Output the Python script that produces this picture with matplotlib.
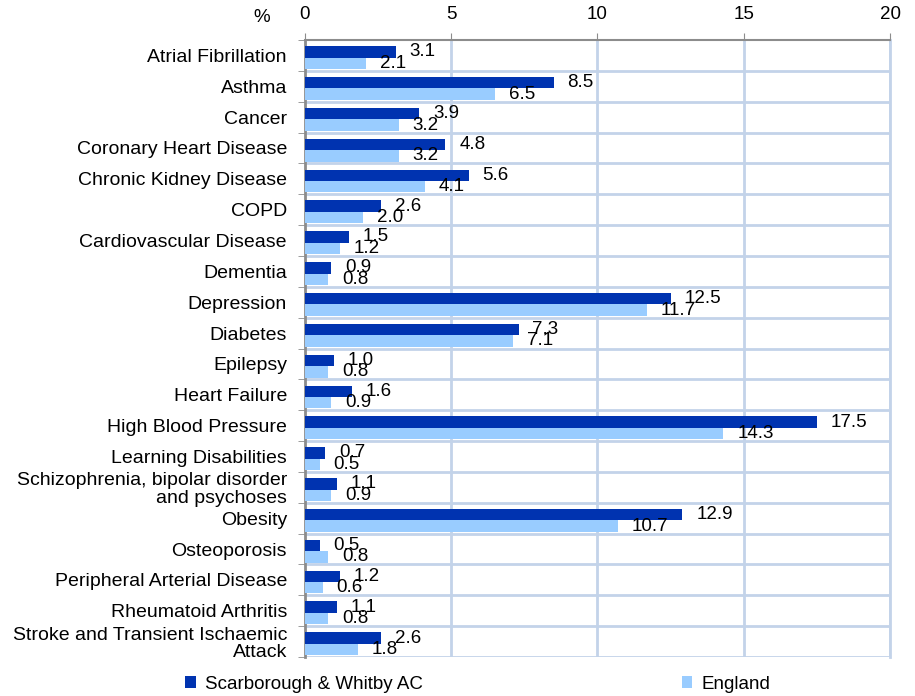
import matplotlib
matplotlib.use("Agg")
import matplotlib.pyplot as plt
import numpy as np

plt.rcParams['font.family'] = ['Liberation Sans', 'DejaVu Sans']

conditions = [
    "Atrial Fibrillation", "Asthma", "Cancer", "Coronary Heart Disease",
    "Chronic Kidney Disease", "COPD", "Cardiovascular Disease", "Dementia",
    "Depression", "Diabetes", "Epilepsy", "Heart Failure",
    "High Blood Pressure", "Learning Disabilities",
    "Schizophrenia, bipolar disorder\nand psychoses", "Obesity",
    "Osteoporosis", "Peripheral Arterial Disease", "Rheumatoid Arthritis",
    "Stroke and Transient Ischaemic\nAttack",
]
scarborough = [3.1, 8.5, 3.9, 4.8, 5.6, 2.6, 1.5, 0.9, 12.5, 7.3,
               1.0, 1.6, 17.5, 0.7, 1.1, 12.9, 0.5, 1.2, 1.1, 2.6]
england = [2.1, 6.5, 3.2, 3.2, 4.1, 2.0, 1.2, 0.8, 11.7, 7.1,
           0.8, 0.9, 14.3, 0.5, 0.9, 10.7, 0.8, 0.6, 0.8, 1.8]
series_names = ["Scarborough & Whitby AC", "England"]
xticks = [0, 5, 10, 15, 20]

dark = "#0033b0"
light = "#99ccff"
grid_c = "#c3d3e9"
spine_c = "#8c8c8c"
fs = 13.5

fig = plt.figure(figsize=(9.15, 6.96), dpi=100)
ax = fig.add_axes([0.3333, 0.056, 0.6394, 0.8865])

y = np.arange(len(conditions))
h = 0.37
b1 = ax.barh(y - 0.115, scarborough, height=h, color=dark, label=series_names[0], zorder=3)
b2 = ax.barh(y + 0.255, england, height=h, color=light, label=series_names[1], zorder=3)

for bars, vals in ((b1, scarborough), (b2, england)):
    for bar, v in zip(bars, vals):
        ax.annotate(f"{v:.1f}", (v, bar.get_y() + bar.get_height() / 2),
                    xytext=(10, 0), textcoords="offset points",
                    va="center", ha="left", fontsize=fs, color="black", zorder=4)

ax.set_xlim(0, 20)
ax.set_ylim(len(conditions) - 0.5, -0.5)
ax.xaxis.tick_top()
ax.set_xticks(xticks)
ax.set_xticklabels([str(t) for t in xticks], fontsize=fs)
ax.tick_params(axis="x", which="major", length=5, color=spine_c, pad=7, direction="out")

ax.set_yticks(y)
ax.set_yticklabels(conditions, fontsize=14, linespacing=1.05)
ax.tick_params(axis="y", which="major", length=0, pad=13)
ax.set_yticks(np.arange(len(conditions) + 1) - 0.5, minor=True)
ax.tick_params(axis="y", which="minor", length=5, color=spine_c, direction="out")

for xv in xticks[1:]:
    ax.axvline(xv, color=grid_c, lw=2, zorder=1)
for yv in np.arange(1, len(conditions) + 1) - 0.5:
    ax.axhline(yv, color=grid_c, lw=2, zorder=1)

ax.spines["top"].set_color(spine_c)
ax.spines["top"].set_linewidth(1.5)
ax.spines["left"].set_color(spine_c)
ax.spines["left"].set_linewidth(2)
ax.spines["right"].set_color(grid_c)
ax.spines["right"].set_linewidth(2)
ax.spines["bottom"].set_visible(False)

fig.text(0.286, 0.975, "%", fontsize=fs, ha="center", va="center")

fig.legend(handles=[b1, b2], loc="center", bbox_to_anchor=(0.522, 0.017),
           ncol=2, frameon=False, fontsize=fs, handlelength=0.55,
           handleheight=0.55, handletextpad=0.5, columnspacing=13.8)

fig.savefig("out.png", dpi=100)
